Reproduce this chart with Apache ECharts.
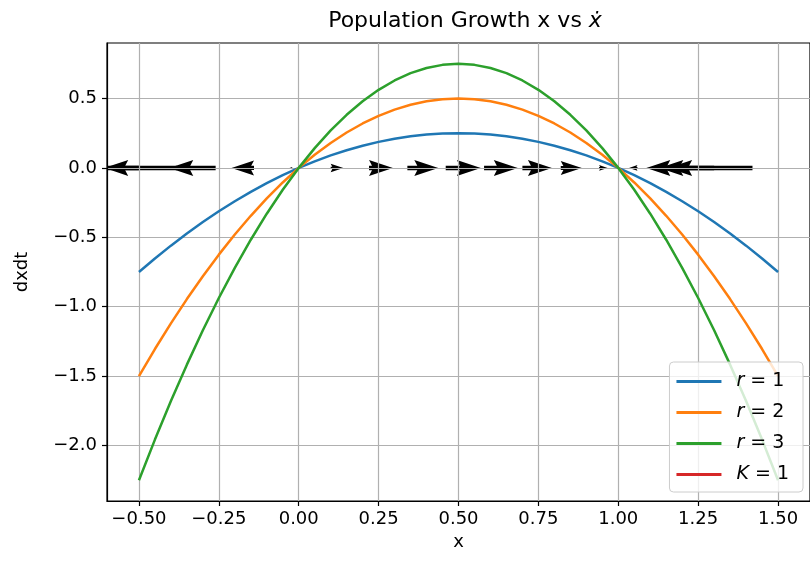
<!DOCTYPE html>
<html>
<head>
<meta charset="utf-8">
<script src="https://cdn.jsdelivr.net/npm/echarts@6/dist/echarts.min.js"></script>
<style>
html, body { margin: 0; padding: 0; background: #fff; }
#chart { width: 810px; height: 564px; }
</style>
</head>
<body>
<div id="chart"></div>
<script>
// curve samples, x from -0.5 to 1.5 in steps of 0.05
const xValues = [-0.5, -0.45, -0.4, -0.35, -0.3, -0.25, -0.2, -0.15, -0.1, -0.05,
                 0, 0.05, 0.1, 0.15, 0.2, 0.25, 0.3, 0.35, 0.4, 0.45,
                 0.5, 0.55, 0.6, 0.65, 0.7, 0.75, 0.8, 0.85, 0.9, 0.95,
                 1.0, 1.05, 1.1, 1.15, 1.2, 1.25, 1.3, 1.35, 1.4, 1.45, 1.5];
const growthR1 = [-0.75, -0.6525, -0.56, -0.4725, -0.39, -0.3125, -0.24, -0.1725, -0.11, -0.0525,
                  0, 0.0475, 0.09, 0.1275, 0.16, 0.1875, 0.21, 0.2275, 0.24, 0.2475,
                  0.25, 0.2475, 0.24, 0.2275, 0.21, 0.1875, 0.16, 0.1275, 0.09, 0.0475,
                  0, -0.0525, -0.11, -0.1725, -0.24, -0.3125, -0.39, -0.4725, -0.56, -0.6525, -0.75];
const growthR2 = [-1.5, -1.305, -1.12, -0.945, -0.78, -0.625, -0.48, -0.345, -0.22, -0.105,
                  0, 0.095, 0.18, 0.255, 0.32, 0.375, 0.42, 0.455, 0.48, 0.495,
                  0.5, 0.495, 0.48, 0.455, 0.42, 0.375, 0.32, 0.255, 0.18, 0.095,
                  0, -0.105, -0.22, -0.345, -0.48, -0.625, -0.78, -0.945, -1.12, -1.305, -1.5];
const growthR3 = [-2.25, -1.9575, -1.68, -1.4175, -1.17, -0.9375, -0.72, -0.5175, -0.33, -0.1575,
                  0, 0.1425, 0.27, 0.3825, 0.48, 0.5625, 0.63, 0.6825, 0.72, 0.7425,
                  0.75, 0.7425, 0.72, 0.6825, 0.63, 0.5625, 0.48, 0.3825, 0.27, 0.1425,
                  0, -0.1575, -0.33, -0.5175, -0.72, -0.9375, -1.17, -1.4175, -1.68, -1.9575, -2.25];
const carrying = []; // K = 1 only shows in the legend

// arrows on the line dxdt = 0 (tail x, horizontal component)
const quiverX = [-0.5, -0.38, -0.26, -0.14, -0.02, 0.10, 0.22, 0.34, 0.46,
                 0.58, 0.70, 0.82, 0.94, 1.06, 1.18, 1.30, 1.42];
const quiverU = [-0.75, -0.52, -0.33, -0.16, -0.02, 0.09, 0.17, 0.22, 0.25,
                 0.24, 0.21, 0.15, 0.06, -0.06, -0.21, -0.39, -0.60];

const xTicks = [-0.5, -0.25, 0, 0.25, 0.5, 0.75, 1.0, 1.25, 1.5];
const yTicks = [-2.0, -1.5, -1.0, -0.5, 0, 0.5];
const seriesNames = ['r = 1', 'r = 2', 'r = 3', 'K = 1'];

const colors = ['#1f77b4', '#ff7f0e', '#2ca02c', '#d62728'];
const FONT = 'DejaVu Sans';
const ARROW_SCALE = 0.44;   // x units per unit of dxdt
const SHAFT_W = 4.5, HEAD_W = 16, HEAD_LEN = 24, HEAD_AXIS = 21;

const minus = s => s.replace('-', '\u2212');

function pairs(ys) {
    return xValues.map((x, i) => [x, ys[i]]);
}

function renderArrow(params, api) {
    const x = api.value(0);
    const u = api.value(1);
    const tail = api.coord([x, 0]);
    const tip = api.coord([x + u * ARROW_SCALE, 0]);
    const dir = tip[0] >= tail[0] ? 1 : -1;
    let len = Math.abs(tip[0] - tail[0]);
    let k = 1;
    if (len < HEAD_LEN) {
        k = len / HEAD_LEN;
        len = HEAD_LEN;
    }
    const w = SHAFT_W / 2, hw = HEAD_W / 2;
    const shape = [
        [0, -w], [len - HEAD_AXIS, -w], [len - HEAD_LEN, -hw], [len, 0],
        [len - HEAD_LEN, hw], [len - HEAD_AXIS, w], [0, w]
    ];
    const points = shape.map(p => [tail[0] + dir * p[0] * k, tail[1] + p[1] * k]);
    return {
        type: 'polygon',
        shape: { points },
        style: { fill: '#000' }
    };
}

const chart = echarts.init(document.getElementById('chart'));

const lineSeries = [growthR1, growthR2, growthR3, carrying].map((ys, i) => ({
    name: seriesNames[i],
    type: 'line',
    data: pairs(ys),
    showSymbol: false,
    symbol: 'none',
    z: 3,
    lineStyle: { width: 2.5, color: colors[i] },
    itemStyle: { color: colors[i] }
}));

const option = {
    animation: false,
    textStyle: { fontFamily: FONT },
    title: {
        text: '{a|Population Growth x vs }{b|\u1E8B}',
        left: 460,
        top: 5,
        textAlign: 'center',
        textStyle: {
            fontWeight: 'normal',
            rich: {
                a: { fontFamily: FONT, fontSize: 22, fontWeight: 'normal', color: '#000' },
                b: { fontFamily: FONT, fontSize: 22, fontWeight: 'normal', color: '#000', fontStyle: 'italic' }
            }
        }
    },
    grid: {
        left: 107, right: -3, top: 43, bottom: 63,
        show: true, borderColor: '#000', borderWidth: 1.2
    },
    legend: {
        orient: 'vertical',
        right: 7,
        bottom: 72,
        data: seriesNames,
        icon: 'rect',
        itemWidth: 45,
        itemHeight: 3,
        itemGap: 12,
        padding: [10, 14, 8, 7],
        backgroundColor: 'rgba(255,255,255,0.8)',
        borderColor: '#cccccc',
        borderWidth: 1,
        borderRadius: 4,
        formatter: name => name.replace(/^(\w)/, '{i|$1}'),
        textStyle: {
            fontFamily: FONT, fontSize: 19, color: '#000',
            padding: [0, 0, 0, 10],
            rich: { i: { fontFamily: FONT, fontSize: 19, fontStyle: 'italic' } }
        }
    },
    xAxis: {
        type: 'value',
        min: -0.6,
        max: 1.6,
        name: 'x',
        nameLocation: 'middle',
        nameGap: 32,
        nameTextStyle: { fontFamily: FONT, fontSize: 18, color: '#000' },
        axisLine: { onZero: false, lineStyle: { color: '#000', width: 1.2 } },
        axisTick: { customValues: xTicks, length: 5, lineStyle: { color: '#000', width: 1.2 } },
        axisLabel: {
            customValues: xTicks, margin: 9,
            fontFamily: FONT, fontSize: 18, color: '#000',
            formatter: v => minus(v.toFixed(2))
        },
        splitLine: { show: true, customValues: xTicks, lineStyle: { color: '#b0b0b0', width: 1.2 } }
    },
    yAxis: {
        type: 'value',
        min: -2.4,
        max: 0.9,
        name: 'dxdt',
        nameLocation: 'middle',
        nameGap: 76,
        nameTextStyle: { fontFamily: FONT, fontSize: 18, color: '#000' },
        axisLine: { show: true, onZero: false, lineStyle: { color: '#000', width: 1.2 } },
        axisTick: { show: true, customValues: yTicks, length: 5, lineStyle: { color: '#000', width: 1.2 } },
        axisLabel: {
            customValues: yTicks, margin: 10,
            fontFamily: FONT, fontSize: 18, color: '#000',
            formatter: v => minus(v.toFixed(1))
        },
        splitLine: { show: true, customValues: yTicks, lineStyle: { color: '#b0b0b0', width: 1.2 } }
    },
    series: [
        {
            name: 'quiver',
            type: 'custom',
            renderItem: renderArrow,
            clip: true,
            z: -1,
            encode: { x: 0, y: 1 },
            data: quiverX.map((x, i) => [x, quiverU[i]])
        }
    ].concat(lineSeries)
};

chart.setOption(option);
</script>
</body>
</html>
